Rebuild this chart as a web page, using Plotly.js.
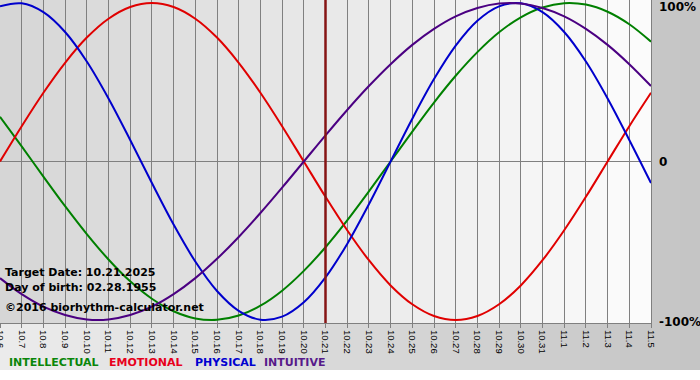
<!DOCTYPE html>
<html>
<head>
<meta charset="utf-8">
<script src="https://cdn.plot.ly/plotly-3.0.1.min.js"></script>
<style>html,body{margin:0;padding:0;background:#fff;}#chart{width:700px;height:380px;}</style>
</head>
<body>
<div id="chart"></div>
<script>
const dates = ['10.6','10.7','10.8','10.9','10.10','10.11','10.12','10.13','10.14','10.15','10.16','10.17','10.18','10.19','10.20','10.21','10.22','10.23','10.24','10.25','10.26','10.27','10.28','10.29','10.30','10.31','11.1','11.2','11.3','11.4','11.5'];
const intellectual = [28.2,9.5,-9.5,-28.2,-45.8,-61.8,-75.6,-86.6,-94.5,-99.0,-99.9,-97.2,-91.0,-81.5,-69.0,-54.1,-37.2,-18.9,0,18.9,37.2,54.1,69.0,81.5,91.0,97.2,99.9,99.0,94.5,86.6,75.6];
const emotional = [0,22.3,43.4,62.3,78.2,90.1,97.5,100,97.5,90.1,78.2,62.3,43.4,22.3,0,-22.3,-43.4,-62.3,-78.2,-90.1,-97.5,-100,-97.5,-90.1,-78.2,-62.3,-43.4,-22.3,0,22.3,43.4];
const physical = [97.9,99.8,94.2,81.7,63.1,39.8,13.6,-13.6,-39.8,-63.1,-81.7,-94.2,-99.8,-97.9,-88.8,-73.1,-52.0,-27.0,0,27.0,52.0,73.1,88.8,97.9,99.8,94.2,81.7,63.1,39.8,13.6,-13.6];
const intuitive = [-73.6,-83.7,-91.6,-96.9,-99.7,-99.7,-96.9,-91.6,-83.7,-73.6,-61.4,-47.6,-32.5,-16.5,0,16.5,32.5,47.6,61.4,73.6,83.7,91.6,96.9,99.7,99.7,96.9,91.6,83.7,73.6,61.4,47.6];
const targetDate = '10.21';
const yTickVals = [100, 0, -100];
const yTickText = ['100%', '0', '-100%'];
const infoLines = ['Target Date: 10.21.2025', 'Day of birth: 02.28.1955', '©2016 biorhythm-calculator.net'];
const legendNames = ['INTELLECTUAL', 'EMOTIONAL', 'PHYSICAL', 'INTUITIVE'];

const W = 651, H = 323;
const colors = ['#008000', '#e00000', '#0000cc', '#4b0082'];
const textColors = ['#0a860a', '#e8001c', '#0000d0', '#571a8a'];

function gray(v){ const h = Math.round(v).toString(16).padStart(2,'0'); return '#'+h+h+h; }

const shapes = [];
// paper gradient (outer frame)
const nP = 35;
for (let k = 0; k < nP; k++) {
  shapes.push({type:'rect', xref:'paper', yref:'paper', layer:'below',
    x0: (k*20)/W, x1: ((k+1)*20+1)/W, y0: -47/H, y1: 1.01,
    fillcolor: gray(0xeb - (0xeb-0xc5)*k/(nP-1)), line:{width:0}});
}
// plot area gradient
const nS = 30;
for (let k = 0; k < nS; k++) {
  shapes.push({type:'rect', xref:'paper', yref:'paper', layer:'below',
    x0: k/nS, x1: (k+1)/nS + 0.001, y0: 0, y1: 1,
    fillcolor: gray(0xd6 + (0xfb-0xd6)*k/(nS-1)), line:{width:0}});
}
// target date line
shapes.push({type:'line', xref:'x', yref:'paper', layer:'above',
  x0: dates.indexOf(targetDate), x1: dates.indexOf(targetDate), y0: 0, y1: 1,
  line:{color:'#861414', width:2.5}});

const annotations = [];
const infoY = [272, 287, 307];
infoLines.forEach((t,i) => annotations.push({text:t, xref:'paper', yref:'paper',
  x: 3/W, y: (H - infoY[i])/H, xanchor:'left', yanchor:'middle', showarrow:false,
  font:{family:'DejaVu Sans', size:11, color:'#000', weight:'bold'}}));
const legX = [7, 107, 193, 262];
legendNames.forEach((t,i) => annotations.push({text:t, xref:'paper', yref:'paper',
  x: legX[i]/W, y: (H - 362)/H, xanchor:'left', yanchor:'middle', showarrow:false,
  font:{family:'DejaVu Sans', size:11, color:textColors[i], weight:'bold'}}));
const yShift = [-4, -0.5, -2.5];
yTickVals.forEach((v,i) => annotations.push({text:yTickText[i], xref:'paper', yref:'y',
  x: 1 + 6/W, y: v, yshift: yShift[i], xanchor:'left', yanchor:'middle', showarrow:false,
  font:{family:'DejaVu Sans', size:12, color:'#000', weight:'bold'}}));

const series = [intellectual, emotional, physical, intuitive];
const traces = series.map((s,i) => ({
  type:'scatter', mode:'lines', x: dates, y: s, name: legendNames[i],
  line:{color: colors[i], width: 2, shape:'spline', smoothing: 1},
  hoverinfo:'skip'
}));

const layout = {
  width: 700, height: 380,
  margin: {l:0, r:49, t:0, b:57, pad:0},
  paper_bgcolor: '#ffffff',
  plot_bgcolor: 'rgba(0,0,0,0)',
  showlegend: false,
  xaxis: {type:'category', range:[0, dates.length-1], showgrid:true, gridcolor:'#808080', gridwidth:1,
    ticks:'outside', ticklen:4, tickcolor:'#808080', tickangle:90,
    tickfont:{family:'Liberation Sans', size:9.5, color:'#000'},
    showline:true, linecolor:'#808080', linewidth:1, mirror:true, zeroline:false, fixedrange:true},
  yaxis: {range:[-101.9, 101.9], showgrid:false, zeroline:true, zerolinecolor:'#808080', zerolinewidth:1,
    showticklabels:false, ticks:'', showline:true, linecolor:'#808080', linewidth:1, mirror:true, fixedrange:true},
  shapes: shapes,
  annotations: annotations
};

Plotly.newPlot('chart', traces, layout, {displayModeBar:false, staticPlot:true});
</script>
</body>
</html>
